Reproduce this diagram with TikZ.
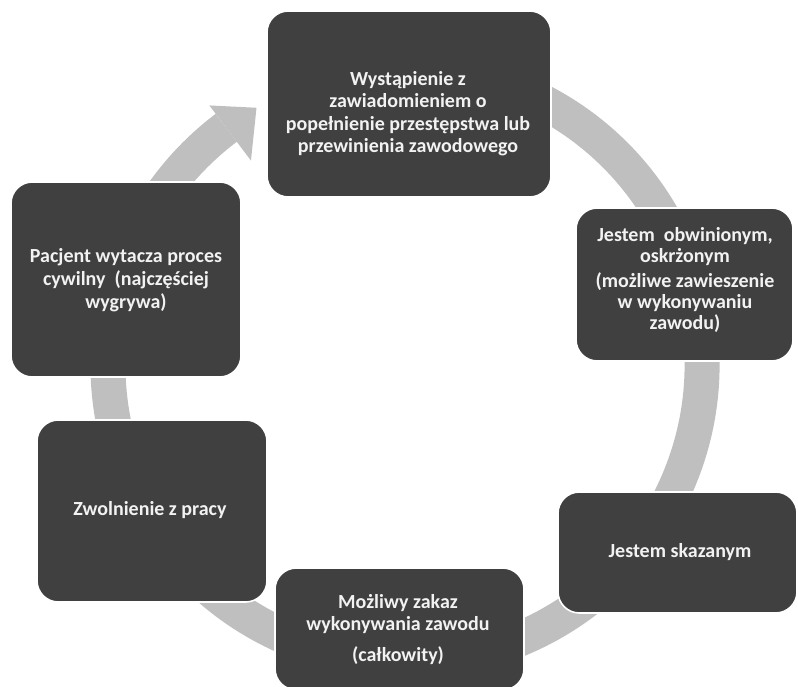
\documentclass[tikz,border=0pt]{standalone}
\usepackage{fontspec}
\setmainfont{Carlito}
\usetikzlibrary{fit,calc}
\definecolor{boxfill}{HTML}{404040}
\definecolor{bandc}{HTML}{BFBFBF}
\definecolor{txtc}{HTML}{F2F2F2}
\begin{document}
\begin{tikzpicture}[x=0.75pt,y=0.75pt,
  box/.style={fill=boxfill, draw=white, line width=1.2pt, rounded corners=16pt, inner sep=0pt},
  txt/.style={text=txtc, font=\bfseries\fontsize{15}{16.8}\selectfont, align=center, inner sep=0pt}]
\useasboundingbox (0,0) rectangle (798,686);
\clip (0,0) rectangle (798,686);
\fill[white] (0,0) rectangle (798,686);
\coordinate (c) at (405,321);
% cycle band with arrowhead
\draw[bandc, line width=26.25pt] ($(c)+(65:222.75pt)$) arc[start angle=65, end angle=-233, radius=222.75pt];
\fill[bandc] ($(c)+(127:243.75pt)$) -- ($(c)+(120:222.75pt)$) -- ($(c)+(127:192pt)$) -- cycle;
% boxes
\node[box, fit={(267,489) (551,675)}] (b1) {};
\node[box, fit={(576,325) (793,478)}] (b2) {};
\node[box, fit={(558,73) (797,194)}] (b6) {};
\node[box, fit={(275,-4) (524,118)}] (b5) {};
\node[box, fit={(37,84) (267,266)}] (b4) {};
\node[box, fit={(11,309) (241,504)}] (b3) {};
% texts
\node[txt] (t1) at (408,572.5) {Wystąpienie z\\ zawiadomieniem o\\ popełnienie przestępstwa lub\\ przewinienia zawodowego};
\node[txt, font=\bfseries\fontsize{15}{15.9}\selectfont] (t2) at (685,406) {Jestem~ obwinionym,\\ oskrżonym\\[3pt] (możliwe zawieszenie\\ w wykonywaniu\\ zawodu)};
\node[txt, font=\bfseries\fontsize{15}{17.2}\selectfont] (t3) at (126,406) {Pacjent wytacza proces\\ cywilny~ (najczęściej\\ wygrywa)};
\node[txt] (t4) at (150,176) {Zwolnienie z pracy};
\node[txt, font=\bfseries\fontsize{15}{17.2}\selectfont] (t5) at (398,56.5) {Możliwy zakaz\\ wykonywania zawodu\\[6pt] (całkowity)};
\node[txt] (t6) at (680,134) {Jestem skazanym};
\end{tikzpicture}
\end{document}
